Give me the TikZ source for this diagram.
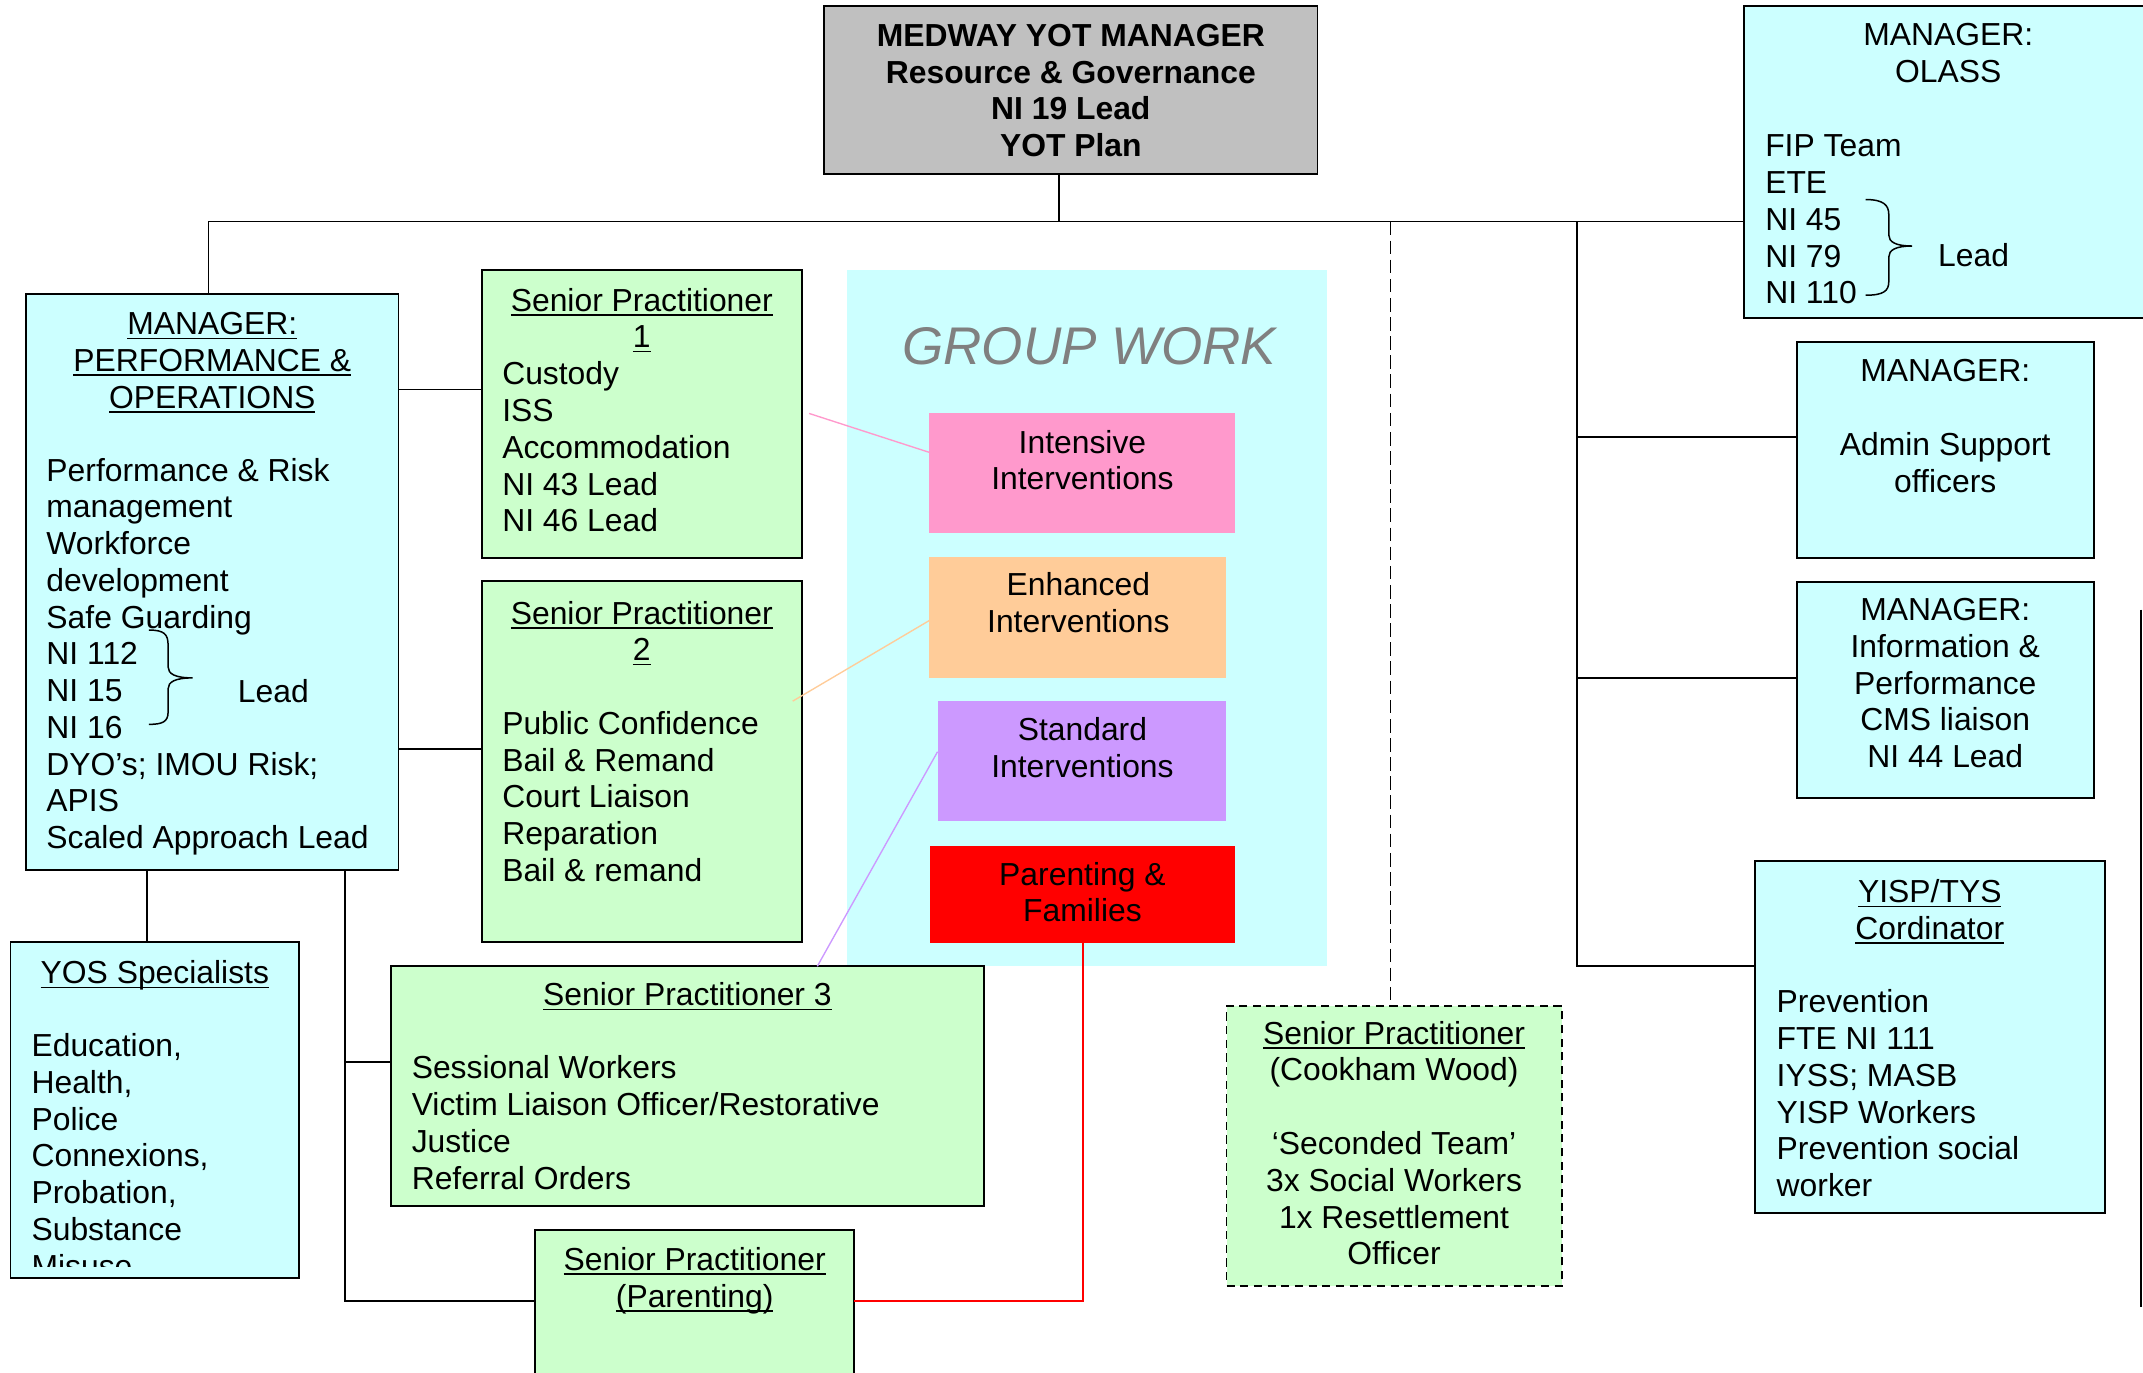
\documentclass[tikz,border=0pt]{standalone}
\usepackage{fontspec}
\setmainfont{Liberation Sans}
\definecolor{graybox}{HTML}{C0C0C0}
\definecolor{cyanbg}{HTML}{CCFFFF}
\definecolor{greenbg}{HTML}{CCFFCC}
\definecolor{pinkbg}{HTML}{FF99CC}
\definecolor{orangebg}{HTML}{FFCC99}
\definecolor{purplebg}{HTML}{CC99FF}
\definecolor{redbg}{HTML}{FF0000}
\definecolor{gwgray}{HTML}{808080}
\newcommand\Lft[1]{\vtop{\baselineskip=26.9pt\lineskiplimit=-100pt\lineskip=0pt\halign{##\hfil\cr#1\crcr}}}
\newcommand\Ctr[1]{\vtop{\baselineskip=26.9pt\lineskiplimit=-100pt\lineskip=0pt\halign{\hfil##\hfil\cr#1\crcr}}}
\newcommand\myul[1]{\setbox0=\hbox{#1}\rlap{\rule[-3.3pt]{\wd0}{1.2pt}}\box0}
\newcommand\mkbox[6]{\node[boxnode,#6,minimum width={(#4-#2)*1pt},minimum height={(#5-#3)*1pt}] (#1) at (#2,#3) {};}
\tikzset{
  boxnode/.style={draw=black, line width=1.4pt, inner sep=0pt, outer sep=0pt, anchor=north west},
  plainbox/.style={draw=none},
  txt/.style={inner sep=0pt, outer sep=0pt, font=\fontsize{23.3}{26.9}\selectfont},
  conn/.style={line width=1.3pt, draw=black},
  thin/.style={line width=1pt},
  brace/.style={line width=1.1pt},
}
\begin{document}
\begin{tikzpicture}[x=1pt,y=-1pt]
\useasboundingbox (0,0) rectangle (1568,1004);
% group work background
\mkbox{gw}{619.6}{197.3}{971}{707}{plainbox, fill=cyanbg}
% boxes
\mkbox{top}{603}{4.5}{964}{127}{fill=graybox}
\mkbox{olass}{1276}{4.5}{1580}{232.6}{fill=cyanbg}
\mkbox{admin}{1314.6}{250}{1532}{408}{fill=cyanbg}
\mkbox{info}{1314.6}{425.6}{1532}{583.7}{fill=cyanbg}
\mkbox{yisp}{1284}{630}{1540}{887.5}{fill=cyanbg}
\mkbox{cook}{897.4}{736}{1142.7}{940.6}{fill=greenbg, dash pattern=on 6pt off 4pt}
\mkbox{intensive}{680}{302}{903.7}{390}{plainbox, fill=pinkbg}
\mkbox{enhanced}{680}{407.6}{897}{495.9}{plainbox, fill=orangebg}
\mkbox{standard}{686}{513}{897}{601}{plainbox, fill=purplebg}
\mkbox{parenting}{680.7}{619}{903.7}{689.7}{plainbox, fill=redbg}
\mkbox{pando}{19}{215}{291.6}{636.4}{fill=cyanbg}
\mkbox{sp1}{352.6}{197.3}{586.7}{408}{fill=greenbg}
\mkbox{sp2}{352.6}{425}{586.7}{689}{fill=greenbg}
\mkbox{sp3}{286}{707}{720}{882.5}{fill=greenbg}
\mkbox{spp}{391.6}{900}{625}{1030}{fill=greenbg}
\mkbox{yos}{7.7}{689}{219}{935}{fill=cyanbg}
% partial box edge at right
\coordinate (re1) at (1566.6,446);
\coordinate (re2) at (1566.6,956);
\draw[conn, line width=1.4pt] (re1) -- (re2);
% connectors
\coordinate (hub) at (775,162);
\coordinate (busL) at (152.5,162);
\coordinate (dsh) at (1017.5,162);
\coordinate (vr) at (1154,162);
\coordinate (v1) at (1154,320);
\coordinate (v2) at (1154,496);
\coordinate (v3) at (1154,707);
\draw[conn] (hub |- top.south) -- (hub);
\draw[conn] (busL |- pando.north) -- (busL) -- (hub -| olass.west);
\draw[conn, line width=1.2pt, dash pattern=on 10pt off 4pt] (dsh) -- (dsh |- cook.north);
\draw[conn] (vr) -- (v3) -- (v3 -| yisp.west);
\draw[conn] (v1) -- (v1 -| admin.west);
\draw[conn] (v2) -- (v2 -| info.west);
\coordinate (l1) at (300,285);
\coordinate (l2) at (300,548);
\coordinate (l3) at (107.8,650);
\coordinate (l4) at (252.5,777);
\coordinate (l5) at (252.5,952);
\draw[conn] (l1 -| pando.east) -- (l1 -| sp1.west);
\draw[conn] (l2 -| pando.east) -- (l2 -| sp2.west);
\draw[conn] (l3 |- pando.south) -- (l3 |- yos.north);
\draw[conn] (l4 |- pando.south) -- (l5) -- (l5 -| spp.west);
\draw[conn] (l4) -- (l4 -| sp3.west);
% coloured links
\coordinate (pk1) at (592,302.5);
\coordinate (pk2) at (680,331);
\coordinate (or1) at (580,513);
\coordinate (or2) at (680,454);
\coordinate (pu1) at (598,707);
\coordinate (pu2) at (686,550);
\coordinate (rd1) at (792.2,952);
\draw[thin, pinkbg] (pk1) -- (pk2 -| intensive.west);
\draw[thin, orangebg] (or1) -- (or2 -| enhanced.west);
\draw[thin, purplebg] (pu1 |- sp3.north) -- (pu2 -| standard.west);
\draw[conn, draw=redbg] (rd1 |- parenting.south) -- (rd1) -- (rd1 -| spp.east);
% braces
\draw[brace] (109,461) .. controls (120,461) and (123,464) .. (123,472) -- (123,488) .. controls (123,493) and (128,496) .. (141,496) .. controls (128,496) and (123,499) .. (123,504) -- (123,521) .. controls (123,528) and (119,530) .. (109,530);
\draw[brace] (1365,146) .. controls (1378,146) and (1382,150) .. (1382,157) -- (1382,172) .. controls (1382,177) and (1387,180) .. (1399,180) .. controls (1387,180) and (1382,183) .. (1382,188) -- (1382,206) .. controls (1382,213) and (1378,216) .. (1365,216);
% texts
\node[txt, anchor=base] (ttop) at (783.5,34) {\Ctr{\bfseries MEDWAY YOT MANAGER\cr\bfseries Resource \& Governance\cr\bfseries NI 19 Lead\cr\bfseries YOT Plan}};
\node[txt, anchor=base] (tolassh) at (1425.5,33.6) {\Ctr{MANAGER:\cr OLASS}};
\node[txt, anchor=base west] (tolassb) at (1291.6,114.7) {\Lft{FIP Team\cr ETE\cr NI 45\cr NI 79\cr NI 110}};
\node[txt, anchor=base] (tolassl) at (1444,195) {Lead};
\node[txt, anchor=base] (tadmin) at (1423.3,279.3) {\Ctr{MANAGER:\cr{}\cr Admin Support\cr officers}};
\node[txt, anchor=base] (tinfo) at (1423.3,454) {\Ctr{MANAGER:\cr Information \&\cr Performance\cr CMS liaison\cr NI 44 Lead}};
\node[txt, anchor=base] (tyisph) at (1412,660.6) {\Ctr{\myul{YISP/TYS}\cr\myul{Cordinator}}};
\node[txt, anchor=base west] (tyispb) at (1300,741) {\Lft{Prevention\cr FTE NI 111\cr IYSS; MASB\cr YISP Workers\cr Prevention social\cr worker}};
\node[txt, anchor=base] (tcook) at (1020,764) {\Ctr{\myul{Senior Practitioner}\cr (Cookham Wood)\cr{}\cr ‘Seconded Team’\cr 3x Social Workers\cr 1x Resettlement\cr Officer}};
\node[txt, anchor=base, font=\fontsize{38.8}{40}\selectfont\itshape, text=gwgray] (tgw) at (797,267) {GROUP WORK};
\node[txt, anchor=base] (tint) at (792,331.5) {\Ctr{Intensive\cr Interventions}};
\node[txt, anchor=base] (tenh) at (789,436) {\Ctr{Enhanced\cr Interventions}};
\node[txt, anchor=base] (tstd) at (792,541.8) {\Ctr{Standard\cr Interventions}};
\node[txt, anchor=base] (tpar) at (792,647.7) {\Ctr{Parenting \&\cr Families}};
\node[txt, anchor=base] (tpandoh) at (155.3,245) {\Ctr{\myul{MANAGER:}\cr\myul{PERFORMANCE \&}\cr\myul{OPERATIONS}}};
\node[txt, anchor=base west] (tpandob) at (34,352) {\Lft{Performance \& Risk\cr management\cr Workforce\cr development\cr Safe Guarding\cr NI 112\cr NI 15\cr NI 16\cr DYO’s; IMOU Risk;\cr APIS\cr Scaled Approach Lead}};
\node[txt, anchor=base] (tpandol) at (200,514) {Lead};
\node[txt, anchor=base] (tsp1h) at (469.6,227.7) {\Ctr{\myul{Senior Practitioner}\cr\myul{1}}};
\node[txt, anchor=base west] (tsp1b) at (367.5,281.5) {\Lft{Custody\cr ISS\cr Accommodation\cr NI 43 Lead\cr NI 46 Lead}};
\node[txt, anchor=base] (tsp2h) at (469.6,456.6) {\Ctr{\myul{Senior Practitioner}\cr\myul{2}}};
\node[txt, anchor=base west] (tsp2b) at (367.5,537.3) {\Lft{Public Confidence\cr Bail \& Remand\cr Court Liaison\cr Reparation\cr Bail \& remand}};
\node[txt, anchor=base] (tsp3h) at (503,735.8) {\myul{Senior Practitioner 3}};
\node[txt, anchor=base west] (tsp3b) at (301.3,789.4) {\Lft{Sessional Workers\cr Victim Liaison Officer/Restorative\cr Justice\cr Referral Orders}};
\node[txt, anchor=base] (tspp) at (508.3,929.6) {\Ctr{\myul{Senior Practitioner}\cr\myul{(Parenting)}}};
\node[txt, anchor=base] (tyosh) at (113.3,719.7) {\myul{YOS Specialists}};
\begin{scope}
\clip (7.7,689) rectangle (219,927);
\node[txt, anchor=base west] (tyosb) at (23.1,773) {\Lft{Education,\cr Health,\cr Police\cr Connexions,\cr Probation,\cr Substance\cr Misuse}};
\end{scope}
\end{tikzpicture}
\end{document}
